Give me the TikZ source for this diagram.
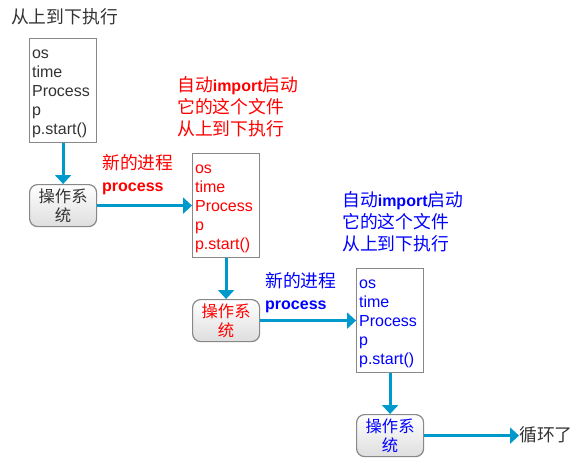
\documentclass[tikz,border=0pt]{standalone}
\usepackage{fontspec}
\setmainfont{Liberation Sans}
\newfontfamily\cjk{Noto Sans CJK SC}
\usetikzlibrary{arrows.meta}
\definecolor{arrowc}{RGB}{0,153,204}
\definecolor{darktxt}{RGB}{51,51,51}
\definecolor{boxborder}{RGB}{136,136,136}
\newcommand{\zh}[1]{{\cjk\fontsize{17.8}{21.5}\selectfont #1}}
\newcommand{\zhs}[1]{{\cjk\fontsize{16.3}{19}\selectfont #1}}
\tikzset{
  codebox/.style={draw=boxborder, line width=1.2pt, rectangle, minimum width=67pt, minimum height=104pt,
    text width=62pt, inner xsep=2.5pt, inner ysep=0pt, align=left, anchor=north west,
    font=\fontsize{16}{19}\selectfont},
  osbox/.style={draw=boxborder, line width=1.2pt, rounded corners=8pt, minimum width=67pt, minimum height=42pt,
    top color=white, bottom color=black!13, inner sep=0pt, align=center, anchor=north west,
    font=\fontsize{16}{19}\selectfont},
  txt/.style={inner sep=0pt, anchor=west, align=left, font=\fontsize{16}{22}\selectfont},
  flow/.style={draw=arrowc, line width=3pt, -{Triangle[width=16pt,length=9pt]}},
}
\newcommand{\code}{\rule{0pt}{14.5pt}os\\time\\Process\\p\\p.start()}
\begin{document}
\begin{tikzpicture}[x=1pt,y=-1pt]
\useasboundingbox (0,0) rectangle (586,466);
\node[txt, text=darktxt] (title) at (11,17) {\zh{从上到下执行}};
\node[codebox, text=darktxt] (box1) at (29,38) {\code};
\node[osbox, text=darktxt] (os1) at (29,184) {\zhs{操作系}\\\zhs{统}};
\node[txt, text=red] (lab1) at (102,175) {\zh{新的进程}\\\textbf{process}};
\node[txt, text=red] (head2) at (177,107) {\zh{自动}\textbf{import}\zh{启动}\\\zh{它的这个文件}\\\zh{从上到下执行}};
\node[codebox, text=red] (box2) at (192,153) {\code};
\node[osbox, text=red] (os2) at (192,299) {\zhs{操作系}\\\zhs{统}};
\node[txt, text=blue] (lab2) at (265,293) {\zh{新的进程}\\\textbf{process}};
\node[txt, text=blue] (head3) at (342,222) {\zh{自动}\textbf{import}\zh{启动}\\\zh{它的这个文件}\\\zh{从上到下执行}};
\node[codebox, text=blue] (box3) at (356,268) {\code};
\node[osbox, text=blue] (os3) at (356,414) {\zhs{操作系}\\\zhs{统}};
\node[txt, text=darktxt] (loop) at (519,435) {\zh{循环了}};
\draw[flow] (box1.south) -- (os1.north);
\draw[flow] (os1.east) -- (os1.east -| box2.west);
\draw[flow] (box2.south) -- (os2.north);
\draw[flow] (os2.east) -- (os2.east -| box3.west);
\draw[flow] (box3.south) -- (os3.north);
\draw[flow] (os3.east) -- (os3.east -| loop.west);
\end{tikzpicture}
\end{document}
